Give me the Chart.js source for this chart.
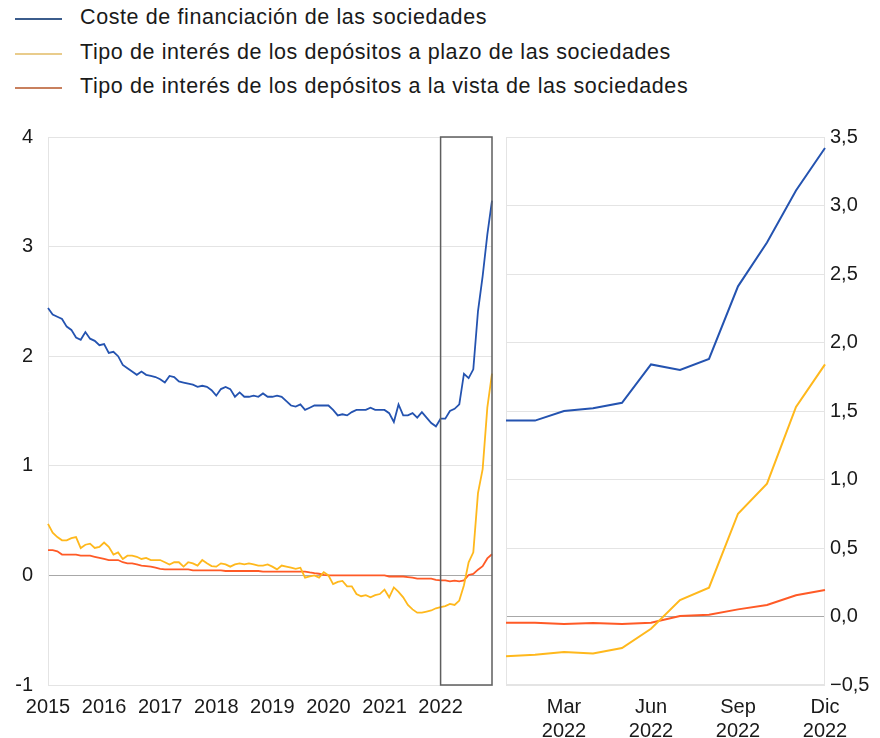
<!DOCTYPE html>
<html>
<head>
<meta charset="utf-8">
<script src="https://cdn.jsdelivr.net/npm/chart.js@4/dist/chart.umd.min.js"></script>
<style>
  body { margin: 0; background: #fff; font-family: "Liberation Sans", Arial, sans-serif; }
  #wrap { position: relative; width: 880px; height: 738px; overflow: hidden; }
  #legend { position: absolute; left: 0; top: 0; }
  .item { position: absolute; left: 0; height: 30px; white-space: nowrap; }
  .item span.line { position: absolute; left: 15px; width: 47px; height: 2px; top: 14px; }
  .item span.txt { position: absolute; left: 80px; top: 1px; font-size: 21.5px; letter-spacing: 0.6px; color: #1a1a1a; }
  #left { position: absolute; left: 0; top: 110px; }
  #right { position: absolute; left: 500px; top: 110px; }
</style>
</head>
<body>
<div id="wrap">
  <div id="legend"></div>
  <canvas id="left" width="500" height="628"></canvas>
  <canvas id="right" width="380" height="628"></canvas>
</div>
<script>
// series names
const nombres = [
  "Coste de financiación de las sociedades",
  "Tipo de interés de los depósitos a plazo de las sociedades",
  "Tipo de interés de los depósitos a la vista de las sociedades"
];
const years = [2015, 2016, 2017, 2018, 2019, 2020, 2021, 2022];
const meses2022 = ["Ene", "Feb", "Mar", "Abr", "May", "Jun", "Jul", "Ago", "Sep", "Oct", "Nov", "Dic"];

// monthly values 2015-2021 (84 months)
const costeHist = [
  2.44, 2.38, 2.36, 2.34, 2.27, 2.24, 2.17, 2.15, 2.22, 2.16, 2.14, 2.10,
  2.11, 2.03, 2.04, 2.00, 1.92, 1.89, 1.86, 1.83, 1.86, 1.83, 1.82, 1.81,
  1.79, 1.76, 1.82, 1.81, 1.77, 1.76, 1.75, 1.74, 1.72, 1.73, 1.72, 1.69,
  1.64, 1.70, 1.72, 1.70, 1.63, 1.67, 1.63, 1.63, 1.64, 1.63, 1.66, 1.63,
  1.63, 1.64, 1.63, 1.59, 1.55, 1.54, 1.56, 1.51, 1.53, 1.55, 1.55, 1.55,
  1.55, 1.51, 1.46, 1.47, 1.46, 1.49, 1.51, 1.51, 1.51, 1.53, 1.51, 1.51,
  1.51, 1.48, 1.40, 1.56, 1.46, 1.46, 1.48, 1.44, 1.49, 1.44, 1.39, 1.36
];
const plazoHist = [
  0.47, 0.39, 0.35, 0.32, 0.32, 0.34, 0.35, 0.25, 0.28, 0.29, 0.25, 0.26,
  0.30, 0.26, 0.19, 0.21, 0.15, 0.18, 0.18, 0.17, 0.15, 0.16, 0.14, 0.14,
  0.14, 0.12, 0.10, 0.12, 0.12, 0.08, 0.12, 0.11, 0.09, 0.14, 0.11, 0.085,
  0.08, 0.11, 0.10, 0.08, 0.10, 0.11, 0.10, 0.11, 0.10, 0.09, 0.09, 0.10,
  0.08, 0.055, 0.09, 0.08, 0.07, 0.06, 0.07, -0.02, -0.01, 0.00, -0.02, 0.03,
  0.00, -0.08, -0.06, -0.05, -0.10, -0.10, -0.17, -0.19, -0.18, -0.20, -0.18, -0.17,
  -0.13, -0.20, -0.11, -0.15, -0.20, -0.27, -0.31, -0.34, -0.34, -0.33, -0.32, -0.30
];
const vistaHist = [
  0.23, 0.23, 0.22, 0.19, 0.19, 0.19, 0.19, 0.18, 0.18, 0.18, 0.17, 0.16,
  0.15, 0.14, 0.14, 0.14, 0.12, 0.11, 0.11, 0.10, 0.09, 0.085, 0.08, 0.07,
  0.06, 0.055, 0.055, 0.055, 0.055, 0.055, 0.055, 0.045, 0.045, 0.045, 0.045, 0.045,
  0.045, 0.045, 0.04, 0.04, 0.04, 0.04, 0.04, 0.04, 0.04, 0.04, 0.035, 0.035,
  0.035, 0.035, 0.035, 0.035, 0.035, 0.035, 0.035, 0.035, 0.027, 0.02, 0.015, 0.005,
  0, 0, 0, 0, 0, 0, 0, 0, 0, 0, 0, 0,
  0, -0.01, -0.01, -0.01, -0.01, -0.015, -0.02, -0.03, -0.03, -0.03, -0.03, -0.04
];

// 2022 (12 months)
const coste2022 = [1.43, 1.43, 1.50, 1.52, 1.56, 1.84, 1.80, 1.88, 2.41, 2.73, 3.11, 3.42];
const plazo2022 = [-0.29, -0.28, -0.26, -0.27, -0.23, -0.09, 0.12, 0.21, 0.75, 0.97, 1.53, 1.84];
const vista2022 = [-0.045, -0.045, -0.055, -0.047, -0.055, -0.045, 0.004, 0.013, 0.052, 0.084, 0.155, 0.193];

const colores = ["#2453b0", "#ffb81c", "#ff5a26"];
const coloresLeyenda = ["#3b5c8c", "#e9cc8c", "#c8805e"];

// legend
const leg = document.getElementById("legend");
nombres.forEach((n, k) => {
  const d = document.createElement("div");
  d.className = "item";
  d.style.top = (4 + k * 34.5) + "px";
  d.innerHTML = '<span class="line" style="background:' + coloresLeyenda[k] + '"></span><span class="txt">' + n + '</span>';
  leg.appendChild(d);
});

const fuente = { family: "'Liberation Sans', Arial, sans-serif", size: 20 };
const gris = "#e4e4e4";

// left: monthly labels 2015-2022
const labelsLeft = [];
for (const y of years) for (let m = 1; m <= 12; m++) labelsLeft.push(y + "-" + m);

const boxPlugin = {
  id: "box2022",
  afterDatasetsDraw(chart) {
    const { ctx, chartArea, scales } = chart;
    const x0 = scales.x.getPixelForValue(84);
    const x1 = scales.x.getPixelForValue(95);
    ctx.save();
    ctx.strokeStyle = "#5e5e5e";
    ctx.lineWidth = 1.5;
    ctx.strokeRect(x0, chartArea.top, x1 - x0, chartArea.bottom - chartArea.top);
    ctx.restore();
  }
};

const framePlugin = {
  id: "frame",
  beforeDatasetsDraw(chart) {
    const { ctx, chartArea } = chart;
    ctx.save();
    ctx.strokeStyle = gris;
    ctx.lineWidth = 1;
    ctx.strokeRect(chartArea.left + 0.5, chartArea.top + 0.5, chartArea.width - 1, chartArea.height - 1);
    ctx.restore();
  }
};

function ds(data, k, w) {
  return { label: nombres[k], data: data, borderColor: colores[k], borderWidth: w, pointRadius: 0, tension: 0, fill: false };
}

new Chart(document.getElementById("left"), {
  type: "line",
  data: {
    labels: labelsLeft,
    datasets: [
      ds(costeHist.concat(coste2022), 0, 1.8),
      ds(plazoHist.concat(plazo2022), 1, 1.8),
      ds(vistaHist.concat(vista2022), 2, 1.8)
    ]
  },
  plugins: [boxPlugin],
  options: {
    responsive: false,
    animation: false,
    layout: { padding: { top: 27, right: 8, left: 0, bottom: 0 } },
    plugins: { legend: { display: false }, tooltip: { enabled: false } },
    scales: {
      x: {
        grid: { display: false, drawTicks: false },
        border: { display: true, color: gris },
        afterFit: (s) => { s.height = 53; },
        ticks: {
          autoSkip: false, maxRotation: 0, padding: 10, color: "#1a1a1a", font: fuente,
          callback: (v, i) => (i % 12 === 0 ? String(years[i / 12]) : null)
        }
      },
      y: {
        min: -1, max: 4,
        afterFit: (s) => { s.width = 48; },
        grid: { drawTicks: false, color: (c) => (c.tick.value === 0 ? "#a8a8a8" : gris) },
        border: { display: true, color: gris },
        ticks: { stepSize: 1, padding: 15, color: "#1a1a1a", font: fuente,
          callback: (v) => String(v) }
      }
    }
  }
});

new Chart(document.getElementById("right"), {
  type: "line",
  data: {
    labels: meses2022,
    datasets: [ds(coste2022, 0, 2), ds(plazo2022, 1, 2), ds(vista2022, 2, 2)]
  },
  plugins: [framePlugin],
  options: {
    responsive: false,
    animation: false,
    layout: { padding: { top: 27, left: 6, right: 0, bottom: 0 } },
    plugins: { legend: { display: false }, tooltip: { enabled: false } },
    scales: {
      x: {
        grid: { display: false, drawTicks: false },
        border: { display: false },
        afterFit: (s) => { s.height = 53; },
        ticks: {
          autoSkip: false, maxRotation: 0, padding: 10, color: "#1a1a1a", font: fuente,
          callback: (v, i) => (i % 3 === 2 ? [meses2022[i], "2022"] : null)
        }
      },
      y: {
        position: "right",
        min: -0.5, max: 3.5,
        afterFit: (s) => { s.width = 55; },
        grid: { drawTicks: false, color: (c) => (c.tick.value === 0 ? "#a8a8a8" : gris) },
        border: { display: false },
        ticks: { stepSize: 0.5, padding: 5, color: "#1a1a1a", font: fuente,
          callback: (v) => v.toFixed(1).replace(".", ",").replace("-", "\u2212") }
      }
    }
  }
});
</script>
</body>
</html>
